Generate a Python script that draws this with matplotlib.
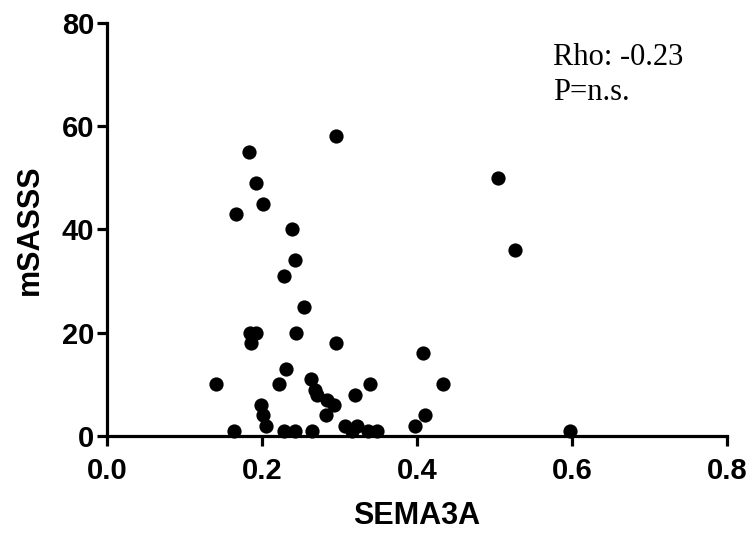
import matplotlib
matplotlib.use("Agg")
import matplotlib.pyplot as plt

sema3a = [0.140, 0.164, 0.167, 0.183, 0.185, 0.186, 0.192, 0.192, 0.199, 0.201,
          0.201, 0.205, 0.222, 0.228, 0.228, 0.231, 0.239, 0.242, 0.242, 0.244,
          0.254, 0.263, 0.264, 0.269, 0.271, 0.283, 0.284, 0.293, 0.296, 0.296,
          0.307, 0.316, 0.320, 0.322, 0.339, 0.337, 0.348, 0.397, 0.408, 0.410,
          0.433, 0.505, 0.526, 0.597]
msasss = [10, 1, 43, 55, 20, 18, 20, 49, 6, 4,
          45, 2, 10, 31, 1, 13, 40, 34, 1, 20,
          25, 11, 1, 9, 8, 4, 7, 6, 18, 58,
          2, 1, 8, 2, 10, 1, 1, 2, 16, 4,
          10, 50, 36, 1]

x_ticks = [0.0, 0.2, 0.4, 0.6, 0.8]
x_ticklabels = ["0.0", "0.2", "0.4", "0.6", "0.8"]
y_ticks = [0, 20, 40, 60, 80]
y_ticklabels = ["0", "20", "40", "60", "80"]

fig = plt.figure(figsize=(7.52, 5.35), dpi=100)
ax = fig.add_axes([107/752, 1 - 436/535, (727 - 107)/752, (436 - 22.7)/535])

ax.scatter(sema3a, msasss, s=105, color="black", zorder=3, clip_on=False, linewidths=0)

ax.set_xlim(0, 0.8)
ax.set_ylim(0, 80)
ax.set_xticks(x_ticks)
ax.set_xticklabels(x_ticklabels)
ax.set_yticks(y_ticks)
ax.set_yticklabels(y_ticklabels)

for side in ["top", "right"]:
    ax.spines[side].set_visible(False)
for side in ["left", "bottom"]:
    ax.spines[side].set_linewidth(2.3)

ax.tick_params(axis="both", direction="out", length=7, width=2.3,
               labelsize=21)
ax.tick_params(axis="x", pad=8)
ax.tick_params(axis="y", pad=2)
for lab in ax.get_xticklabels() + ax.get_yticklabels():
    lab.set_fontfamily("Liberation Sans")
    lab.set_fontweight("bold")

ax.set_xlabel("SEMA3A", fontsize=22, fontweight="bold", family="Liberation Sans", labelpad=12)
ax.set_ylabel("mSASSS", fontsize=22, fontweight="bold", family="Liberation Sans", labelpad=12)

fig.text(553/752, 1 - 65/535, "Rho: -0.23", fontsize=22, family="Liberation Serif",
         ha="left", va="baseline")
fig.text(553/752, 1 - 100/535, "P=n.s.", fontsize=22, family="Liberation Serif",
         ha="left", va="baseline")

fig.savefig("out.png", dpi=100)
